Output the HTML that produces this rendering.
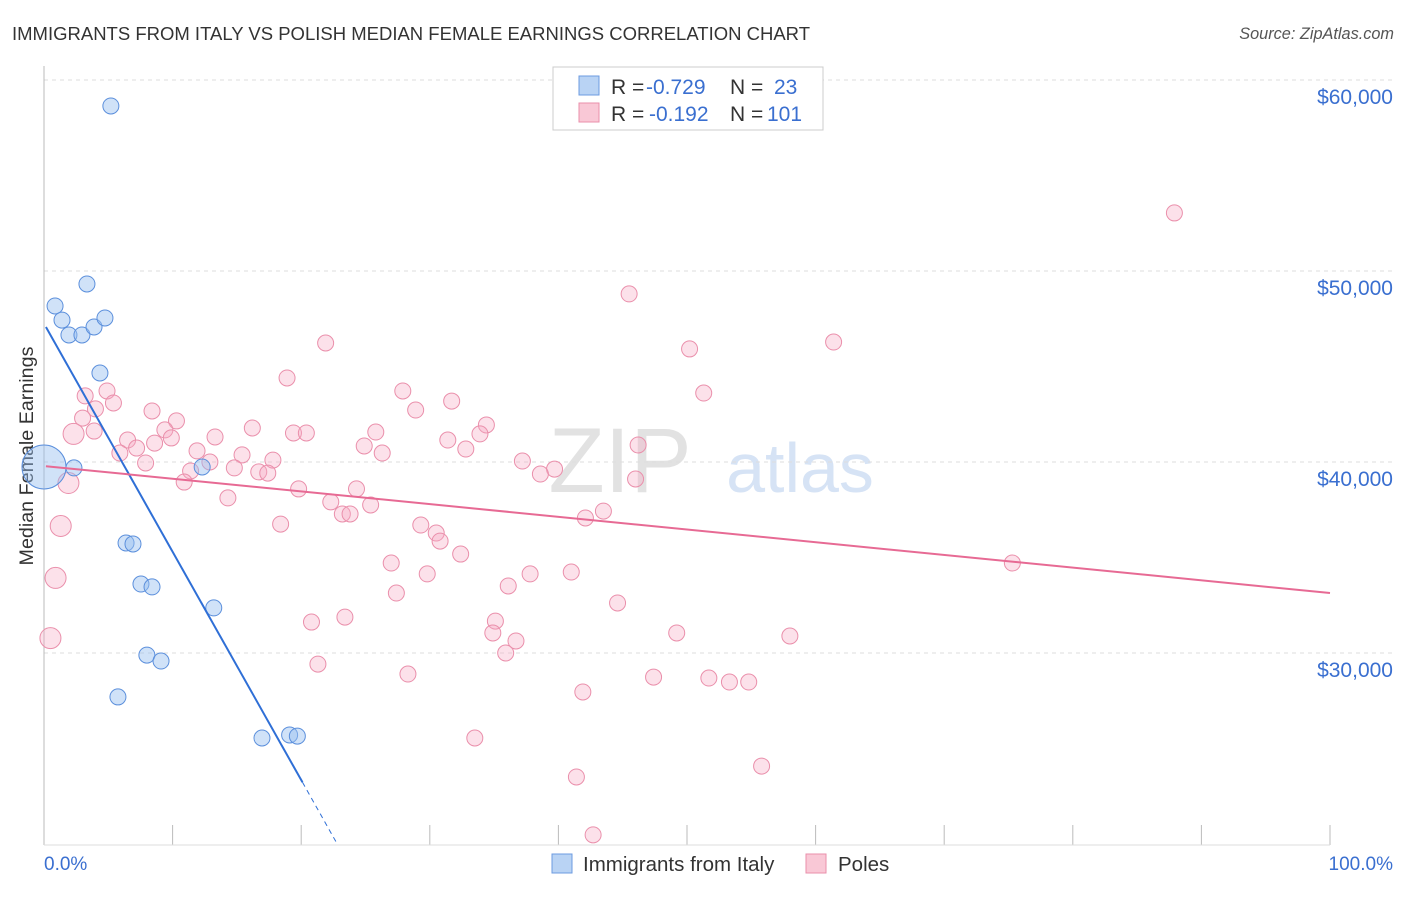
<!DOCTYPE html>
<html><head><meta charset="utf-8"><style>
body{margin:0;background:#fff;font-family:"Liberation Sans",sans-serif;}
svg text{font-family:"Liberation Sans",sans-serif;}
</style></head><body>
<svg id="c" width="1406" height="892" xmlns="http://www.w3.org/2000/svg">
<text x="12" y="40" font-size="18.5" fill="#333">IMMIGRANTS FROM ITALY VS POLISH MEDIAN FEMALE EARNINGS CORRELATION CHART</text>
<text x="1394" y="39" font-size="16.3" fill="#555" font-style="italic" text-anchor="end">Source: ZipAtlas.com</text>
<text x="620" y="492" font-size="92" fill="#e2e2e2" font-family="Liberation Serif" text-anchor="middle">ZIP</text>
<text x="800" y="492" font-size="70" fill="#d6e3f5" text-anchor="middle">atlas</text>
<g id="grid"></g>
<line x1="44" y1="66" x2="44" y2="845" stroke="#bbb"/>
<line x1="44" y1="845" x2="1330" y2="845" stroke="#ddd"/>
<text x="33" y="456" font-size="19.7" fill="#333" text-anchor="middle" transform="rotate(-90 33 456)">Median Female Earnings</text>
<text x="44" y="870" font-size="19" fill="#3a6fd0">0.0%</text>
<text x="1393" y="870" font-size="19" fill="#3a6fd0" text-anchor="end">100.0%</text>
<g id="pts"></g>
<g id="lines"></g>
<g>
<rect x="553" y="67" width="270" height="63" fill="#fff" stroke="#ccc"/>
<rect x="579" y="76" width="20" height="19" fill="#b9d3f4" stroke="#6c9be0"/>
<rect x="579" y="103" width="20" height="19" fill="#f9c8d6" stroke="#ea8fab"/>
<text x="611" y="94" font-size="21" fill="#333">R = <tspan fill="#3a6fd0" x="646">-0.729</tspan><tspan x="730">N = </tspan><tspan fill="#3a6fd0" x="774">23</tspan></text>
<text x="611" y="121" font-size="21" fill="#333">R = <tspan fill="#3a6fd0" x="649">-0.192</tspan><tspan x="730">N = </tspan><tspan fill="#3a6fd0" x="767">101</tspan></text>
</g>
<g>
<rect x="552" y="854" width="20" height="19" fill="#b9d3f4" stroke="#6c9be0"/>
<text x="583" y="871" font-size="20.5" fill="#333">Immigrants from Italy</text>
<rect x="806" y="854" width="20" height="19" fill="#f9c8d6" stroke="#ea8fab"/>
<text x="838" y="871" font-size="20.5" fill="#333">Poles</text>
</g>
</svg>
<script>
const yTicks=[30000,40000,50000,60000];
const yTickLabels=["$30,000","$40,000","$50,000","$60,000"];
const xTickCount=10;
const italyX=[5.2,0.86,3.34,1.4,1.94,2.95,3.89,4.74,4.35,0,2.33,12.3,6.38,6.92,7.54,8.4,13.2,8.0,9.1,5.75,16.95,19.1,19.7];
const italyY=[58640,48170,49320,47430,46650,46650,47070,47540,44660,39740,39690,39740,35760,35710,33610,33460,32360,29890,29580,27700,25550,25710,25650];
const polesX=[87.9,45.5,21.9,61.4,50.2,18.9,27.9,51.3,4.9,3.2,5.4,31.7,4.0,28.9,8.4,3.0,10.3,34.4,3.9,2.3,9.4,16.2,25.8,19.4,20.4,33.9,6.5,13.3,9.9,8.6,31.4,24.9,46.2,7.2,5.9,26.3,32.8,11.9,15.4,17.8,7.9,39.7,37.2,12.9,11.4,14.8,16.7,17.4,38.6,46.0,10.9,1.9,19.8,24.3,14.3,22.3,25.4,23.2,23.8,43.5,42.1,1.3,29.3,18.4,30.5,30.8,32.4,27.0,0.9,29.8,37.8,36.1,41.0,27.4,44.6,23.4,20.8,35.1,34.9,49.2,36.7,58.0,0.5,35.9,21.3,28.3,47.4,51.7,53.3,54.8,75.3,41.9,33.5,55.8,41.4,42.7];
const polesY=[53040,48800,46230,46280,45920,44400,43720,43610,43720,43460,43090,43190,42780,42720,42670,42300,42150,41940,41620,41470,41680,41780,41570,41520,41520,41470,41150,41310,41260,40990,41150,40840,40890,40730,40470,40470,40680,40580,40370,40100,39950,39630,40050,40000,39530,39690,39480,39420,39370,39110,38950,38900,38590,38590,38120,37910,37750,37280,37280,37430,37070,36650,36700,36750,36280,35860,35180,34710,33930,34140,34140,33510,34240,33140,32620,31880,31620,31670,31050,31050,30630,30890,30780,30000,29420,28900,28740,28690,28480,28480,34710,27960,25550,24080,23510,20480];
const italyBig=[9];
const polesBig=[19,51,61,68,82];
const italyFit=[47250,-1195];
const italyFitEnd=20.1;
const polesFit=[39790,-66.5];

const NS="http://www.w3.org/2000/svg";
function sx(p){return 44+p*12.86;}
function sy(v){return 462-(v-40000)*0.0191;}
function mk(tag,attrs,parent){const e=document.createElementNS(NS,tag);for(const k in attrs)e.setAttribute(k,attrs[k]);parent.appendChild(e);return e;}
const grid=document.getElementById('grid');
yTicks.forEach((t,i)=>{
  const l=mk('line',{x1:44,x2:1394,y1:sy(t),y2:sy(t),stroke:'#ddd','stroke-dasharray':'4 4'},grid);
  
  
  const tx=mk('text',{x:1393,y:sy(t)+24,'font-size':21,fill:'#3a6fd0','text-anchor':'end'},grid);
  tx.textContent=yTickLabels[i];
  
  
});
for(let i=1;i<=xTickCount;i++){
  const t=mk('line',{x1:sx(i*10),x2:sx(i*10),y1:825,y2:845,stroke:'#bbb'},grid);
  
  
}
const pts=document.getElementById('pts');
polesX.forEach((x,i)=>{
  const c=mk('circle',{cx:sx(x),cy:sy(polesY[i]),r:polesBig.includes(i)?10.5:8,fill:'rgba(246,170,195,0.35)',stroke:'#ea8fab','stroke-width':1},pts);
  
  
});
italyX.forEach((x,i)=>{
  const c=mk('circle',{cx:sx(x),cy:sy(italyY[i]),r:italyBig.includes(i)?22:8,fill:'rgba(150,190,240,0.45)',stroke:'#5b8fdc','stroke-width':1},pts);
  
  
});
const lg=document.getElementById('lines');
const f=(fit,x)=>fit[0]+fit[1]*x;
const b1=mk('line',{x1:sx(0.15),y1:sy(f(italyFit,0.15)),x2:sx(italyFitEnd),y2:sy(f(italyFit,italyFitEnd)),stroke:'#2f6fd6','stroke-width':2},lg);


const b2=mk('line',{x1:sx(italyFitEnd),y1:sy(f(italyFit,italyFitEnd)),x2:sx(22.7),y2:sy(f(italyFit,22.7)),stroke:'#2f6fd6','stroke-width':1,'stroke-dasharray':'5 4'},lg);


const p1=mk('line',{x1:sx(0.15),y1:sy(f(polesFit,0.15)),x2:sx(100),y2:sy(f(polesFit,100)),stroke:'#e76a94','stroke-width':2},lg);


</script>
</body></html>
